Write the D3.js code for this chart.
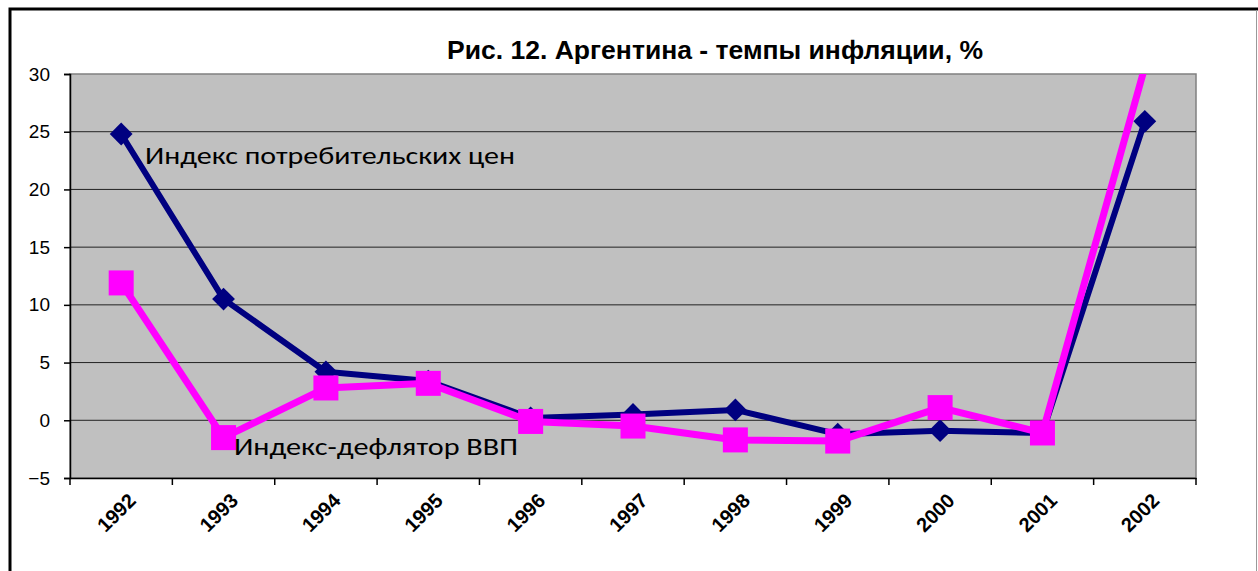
<!DOCTYPE html>
<html>
<head>
<meta charset="utf-8">
<script src="https://cdn.jsdelivr.net/npm/d3@7"></script>
<style>
  body { margin: 0; background: #fff; }
  svg { display: block; }
</style>
</head>
<body>
<svg id="chart" width="1258" height="571"></svg>
<script>
// Data
const years = ["1992", "1993", "1994", "1995", "1996", "1997", "1998", "1999", "2000", "2001", "2002"];
const cpi = [24.8, 10.5, 4.2, 3.4, 0.2, 0.5, 0.9, -1.2, -0.9, -1.1, 25.9];
const deflator = [11.9, -1.5, 2.8, 3.2, -0.1, -0.5, -1.7, -1.8, 1.1, -1.1, 30.6];
const yTicks = [-5, 0, 5, 10, 15, 20, 25, 30];

const svg = d3.select("#chart");
const margin = { top: 74, right: 62, bottom: 93, left: 70 };
const width = 1258 - margin.left - margin.right;
const height = 571 - margin.top - margin.bottom;
const axisFont = "'Liberation Sans', Arial, sans-serif";

// outer frame
svg.append("path")
    .attr("d", "M10,571 V9 H1258")
    .attr("fill", "none")
    .attr("stroke", "#000")
    .attr("stroke-width", 3);
svg.append("line")
    .attr("x1", 1256.5).attr("x2", 1256.5)
    .attr("y1", 10).attr("y2", 571)
    .attr("stroke", "#999").attr("stroke-width", 1);

svg.append("text")
    .attr("x", 447)
    .attr("y", 59)
    .attr("textLength", 536)
    .attr("lengthAdjust", "spacingAndGlyphs")
    .style("font-family", axisFont)
    .style("font-weight", "bold")
    .style("font-size", "26px")
    .text("Рис. 12. Аргентина - темпы инфляции, %");

const g = svg.append("g")
    .attr("transform", `translate(${margin.left},${margin.top})`);

const x = d3.scaleBand().domain(years).range([0, width]);
const y = d3.scaleLinear().domain([-5, 30]).range([height, 0]);

g.append("rect")
    .attr("width", width)
    .attr("height", height)
    .attr("fill", "#c0c0c0")
    .attr("stroke", "#808080")
    .attr("stroke-width", 1.5);

g.selectAll(".grid")
    .data(yTicks.filter(d => d > -5 && d < 30))
    .enter()
    .append("line")
    .attr("x1", 0).attr("x2", width)
    .attr("y1", d => y(d)).attr("y2", d => y(d))
    .attr("stroke", "#222")
    .attr("stroke-width", 1);

// axes
const yAxis = g.append("g")
    .attr("font-size", 19)
    .call(d3.axisLeft(y).tickValues(yTicks).tickSize(6).tickPadding(14));
const xAxis = g.append("g")
    .attr("transform", `translate(0,${height})`)
    .call(d3.axisBottom(x).tickSize(0).tickFormat(""));

[yAxis, xAxis].forEach(a => {
    a.select(".domain").attr("stroke", "#000").attr("stroke-width", 1.5);
    a.selectAll(".tick line").attr("stroke", "#000").attr("stroke-width", 1.5);
});
yAxis.selectAll("text")
    .attr("font-family", axisFont)
    .attr("font-size", 19)
    .attr("fill", "#000");

// category boundary ticks
xAxis.selectAll(".sep")
    .data(years.concat(["end"]))
    .enter()
    .append("line")
    .attr("x1", (d, i) => i * x.bandwidth())
    .attr("x2", (d, i) => i * x.bandwidth())
    .attr("y1", 0).attr("y2", 7)
    .attr("stroke", "#000").attr("stroke-width", 1.5);

g.selectAll(".xlab")
    .data(years)
    .enter()
    .append("text")
    .attr("transform", d => `translate(${x(d) + x.bandwidth() / 2 + 6},${height + 14}) rotate(-45)`)
    .attr("text-anchor", "end")
    .attr("dy", "0.7em")
    .style("font-family", axisFont)
    .style("font-weight", "bold")
    .style("font-size", "20px")
    .text(d => d);

// lines
g.append("clipPath").attr("id", "plotclip")
    .append("rect").attr("width", width).attr("height", height);

const cx = (d, i) => x(years[i]) + x.bandwidth() / 2;
const line = d3.line().x(cx).y(d => y(d));
const inRange = d => d >= -5 && d <= 30;

const plot = g.append("g").attr("clip-path", "url(#plotclip)");

plot.append("path")
    .datum(cpi)
    .attr("d", line)
    .attr("fill", "none")
    .attr("stroke", "#000080")
    .attr("stroke-width", 6)
    .attr("stroke-linejoin", "round");

plot.selectAll(".diamond")
    .data(cpi.map((v, i) => ({ v, i })).filter(d => inRange(d.v)))
    .enter()
    .append("path")
    .attr("d", d3.symbol(d3.symbolSquare, 260))
    .attr("transform", d => `translate(${cx(d.v, d.i)},${y(d.v)}) rotate(45)`)
    .attr("fill", "#000080");

plot.append("path")
    .datum(deflator)
    .attr("d", line)
    .attr("fill", "none")
    .attr("stroke", "#ff00ff")
    .attr("stroke-width", 7)
    .attr("stroke-linejoin", "round");

plot.selectAll(".sq")
    .data(deflator.map((v, i) => ({ v, i })).filter(d => inRange(d.v)))
    .enter()
    .append("rect")
    .attr("x", d => cx(d.v, d.i) - 12.5)
    .attr("y", d => y(d.v) - 12.5)
    .attr("width", 25)
    .attr("height", 25)
    .attr("fill", "#ff00ff");

// series labels
const labelFont = "Carlito, Calibri, 'Open Sans', 'Noto Sans', sans-serif";
g.append("text")
    .attr("x", 145 - margin.left)
    .attr("y", 164 - margin.top)
    .attr("textLength", 370)
    .attr("lengthAdjust", "spacingAndGlyphs")
    .style("font-family", labelFont)
    .style("font-size", "24px")
    .style("fill", "#000")
    .text("Индекс потребительских цен");

g.append("text")
    .attr("x", 234 - margin.left)
    .attr("y", 455 - margin.top)
    .attr("textLength", 284)
    .attr("lengthAdjust", "spacingAndGlyphs")
    .style("font-family", labelFont)
    .style("font-size", "24px")
    .style("fill", "#000")
    .text("Индекс-дефлятор ВВП");
</script>
</body>
</html>
